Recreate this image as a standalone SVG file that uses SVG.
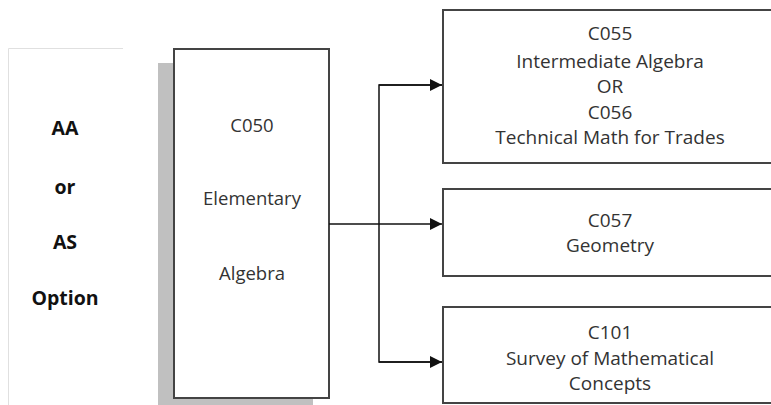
<svg xmlns="http://www.w3.org/2000/svg" width="771" height="405" viewBox="0 0 771 405">
<defs>
<style>
.lbl{font-family:"Open Sans","Liberation Sans",sans-serif;font-weight:bold;font-size:19.5px;fill:#111;text-anchor:middle}
.t1{font-family:"Open Sans","Liberation Sans",sans-serif;font-size:18.5px;fill:#333;text-anchor:middle}
.t2{font-family:"Open Sans","Liberation Sans",sans-serif;font-size:19px;fill:#333;text-anchor:middle}
.box{fill:#fff;stroke:#444;stroke-width:2}
.conn{fill:none;stroke:#111;stroke-width:1.5}
</style>
<marker id="arr" viewBox="0 0 10 10" refX="10" refY="5" markerWidth="16" markerHeight="12" markerUnits="userSpaceOnUse" orient="auto"><path d="M0,0 L10,5 L0,10 Z" fill="#111"/></marker>
</defs>
<rect width="771" height="405" fill="#fff"/>
<g id="option">
<path d="M123,48.5 H8.5 V405" fill="none" stroke="#e0e0e0" stroke-width="1"/>
<text class="lbl" x="65" y="135">AA</text>
<text class="lbl" x="65" y="194">or</text>
<text class="lbl" x="65" y="249">AS</text>
<text class="lbl" x="65" y="305">Option</text>
</g>
<g id="c050">
<rect x="158" y="63" width="155" height="350" fill="#c0c0c0"/>
<rect class="box" x="174" y="49" width="155" height="349"/>
<text class="t1" x="252" y="132">C050</text>
<text class="t1" x="252" y="205">Elementary</text>
<text class="t1" x="252" y="280">Algebra</text>
</g>
<g id="c055">
<rect class="box" x="443" y="10" width="340" height="153"/>
<text class="t2" x="610" y="40">C055</text>
<text class="t2" x="610" y="68">Intermediate Algebra</text>
<text class="t2" x="610" y="93">OR</text>
<text class="t2" x="610" y="119">C056</text>
<text class="t2" x="610" y="144">Technical Math for Trades</text>
</g>
<g id="c057">
<rect class="box" x="443" y="189" width="340" height="87"/>
<text class="t2" x="610" y="227">C057</text>
<text class="t2" x="610" y="252">Geometry</text>
</g>
<g id="c101">
<rect class="box" x="443" y="307" width="340" height="96"/>
<text class="t2" x="610" y="339">C101</text>
<text class="t2" x="610" y="365">Survey of Mathematical</text>
<text class="t2" x="610" y="390">Concepts</text>
</g>
<g id="connectors">
<line class="conn" x1="329" y1="224" x2="442" y2="224" marker-end="url(#arr)"/>
<path class="conn" d="M442,85 H379 V362 H442"/>
<line class="conn" x1="379" y1="85" x2="442" y2="85" marker-end="url(#arr)"/>
<line class="conn" x1="379" y1="362" x2="442" y2="362" marker-end="url(#arr)"/>
</g>
</svg>
